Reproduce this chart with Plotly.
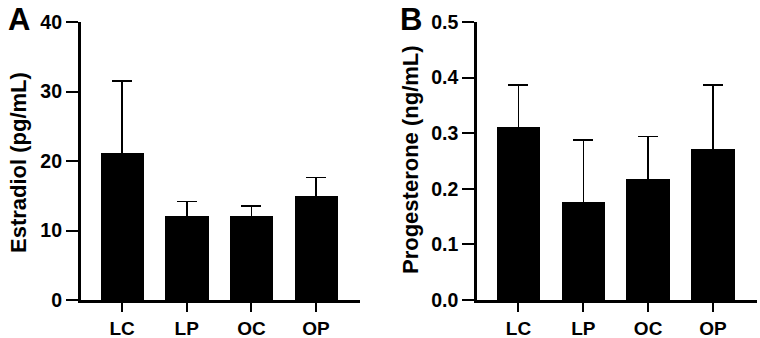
import plotly.graph_objects as go

categories = ["LC", "LP", "OC", "OP"]
estradiol_mean = [21.1, 12.1, 12.1, 15.0]
estradiol_err = [10.4, 2.1, 1.4, 2.6]
progesterone_mean = [0.312, 0.177, 0.217, 0.271]
progesterone_err = [0.075, 0.111, 0.077, 0.116]
estradiol_ticks = [0, 10, 20, 30, 40]
progesterone_ticks = [0.0, 0.1, 0.2, 0.3, 0.4, 0.5]
progesterone_ticklabels = ["0.0", "0.1", "0.2", "0.3", "0.4", "0.5"]

FONT = "Liberation Sans, Arial, sans-serif"
W, H = 760, 338

fig = go.Figure()


def add_bars(y, err, xa, ya):
    # upper error only: the lower whisker runs down inside the black bar to zero
    fig.add_trace(go.Bar(
        x=list(range(len(categories))), y=y,
        marker=dict(color="black", line=dict(width=0)),
        width=0.67,
        error_y=dict(type="data", array=err, arrayminus=list(y), symmetric=False,
                     color="black", thickness=1.6, width=10),
        xaxis=xa, yaxis=ya, showlegend=False,
    ))


add_bars(estradiol_mean, estradiol_err, "x", "y")
add_bars(progesterone_mean, progesterone_err, "x2", "y2")

xcommon = dict(
    range=[-0.64, 3.68], tickmode="array", tickvals=list(range(len(categories))),
    ticktext=categories, showline=True, linecolor="black", linewidth=2.5,
    ticks="outside", ticklen=9, tickwidth=2, tickcolor="black",
    tickfont=dict(family=FONT, size=19, color="black", weight="bold"),
    showgrid=False, zeroline=False, fixedrange=True, automargin=False,
)
ycommon = dict(
    showline=True, linecolor="black", linewidth=2.5,
    ticks="outside", ticklen=12, tickwidth=2, tickcolor="black",
    tickfont=dict(family=FONT, size=19.5, color="black", weight="bold"),
    showgrid=False, zeroline=False, fixedrange=True, automargin=False,
)

top = 1 - 22 / H
bottom = 1 - 300 / H

fig.update_layout(
    width=W, height=H,
    margin=dict(l=0, r=0, t=0, b=0, pad=0, autoexpand=False),
    plot_bgcolor="white", paper_bgcolor="white",
    bargap=0,
    xaxis=dict(domain=[80.7 / W, 360 / W], anchor="y", **xcommon),
    yaxis=dict(domain=[bottom, top], anchor="x", range=[0, 40],
               tickmode="array", tickvals=estradiol_ticks, **ycommon),
    xaxis2=dict(domain=[477 / W, 757 / W], anchor="y2", **xcommon),
    yaxis2=dict(domain=[bottom, top], anchor="x2", range=[0, 0.5],
                tickmode="array", tickvals=progesterone_ticks,
                ticktext=progesterone_ticklabels, **ycommon),
    annotations=[
        dict(text="A", x=19 / W, y=1 - 20 / H, xref="paper", yref="paper",
             showarrow=False, xanchor="center", yanchor="middle",
             font=dict(family=FONT, size=31, color="black", weight="bold")),
        dict(text="B", x=411 / W, y=1 - 20 / H, xref="paper", yref="paper",
             showarrow=False, xanchor="center", yanchor="middle",
             font=dict(family=FONT, size=31, color="black", weight="bold")),
        dict(text="Estradiol (pg/mL)", x=18 / W, y=1 - 163 / H, xref="paper", yref="paper",
             showarrow=False, xanchor="center", yanchor="middle", textangle=-90,
             font=dict(family=FONT, size=22, color="black", weight="bold")),
        dict(text="Progesterone (ng/mL)", x=410 / W, y=1 - 160 / H, xref="paper", yref="paper",
             showarrow=False, xanchor="center", yanchor="middle", textangle=-90,
             font=dict(family=FONT, size=22, color="black", weight="bold")),
    ],
)

fig.write_html(
    "out.html",
    config={"displayModeBar": False, "responsive": False},
    post_script="document.body.style.margin='0';document.body.style.overflow='hidden';",
)
